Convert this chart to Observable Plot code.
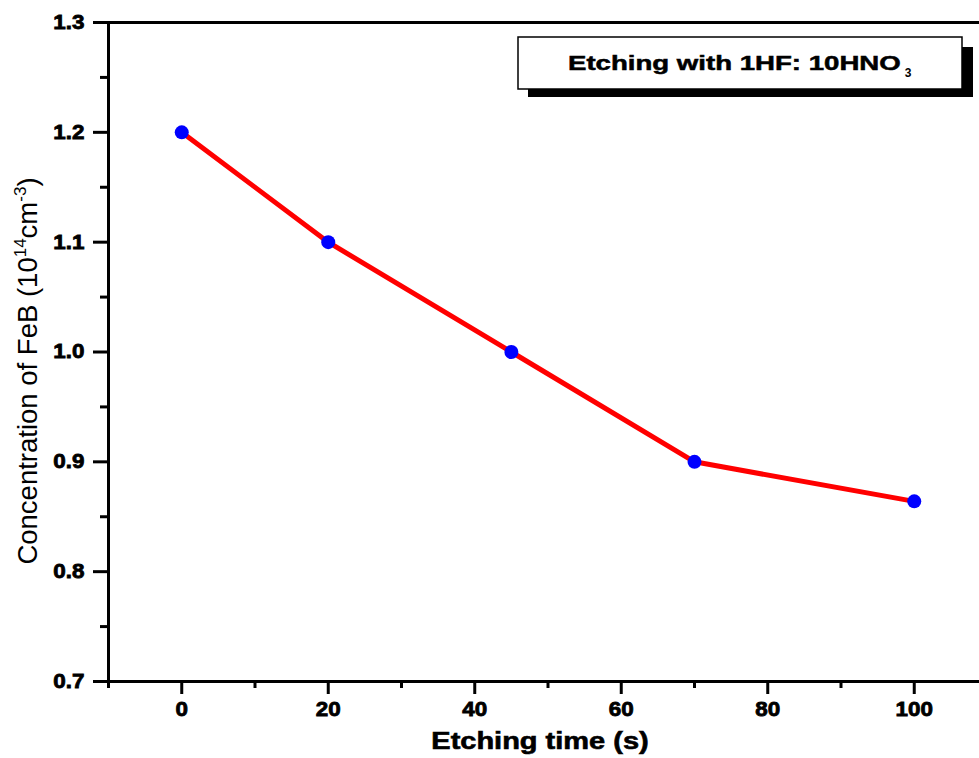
<!DOCTYPE html>
<html><head><meta charset="utf-8">
<script src="https://cdn.jsdelivr.net/npm/d3@7"></script>
<script src="https://cdn.jsdelivr.net/npm/@observablehq/plot@0.6"></script>
<style>body{margin:0;background:#fff;overflow:hidden}</style>
</head><body><div id="chart"></div>
<script>
// ---- data ----
const times = [0, 20, 45, 70, 100];
const concentration = [1.2, 1.1, 1.0, 0.9, 0.864];
const xMajorTicks = [0, 20, 40, 60, 80, 100];
const xMinorTicks = [-10, 10, 30, 50, 70, 90];
const yMajorTicks = [0.7, 0.8, 0.9, 1.0, 1.1, 1.2, 1.3];
const yMinorTicks = [0.75, 0.85, 0.95, 1.05, 1.15, 1.25];
const xTitle = "Etching time (s)";
const yTitleParts = ["Concentration of FeB (10", "14", "cm", "-3", ")"];
const legendParts = ["Etching with 1HF: 10HNO", "3"];

const data = times.map((t, i) => ({t, c: concentration[i]}));
const font = "'Liberation Sans', Arial, sans-serif";

const chart = Plot.plot({
  width: 979, height: 758,
  marginLeft: 108, marginTop: 22, marginBottom: 77, marginRight: 0,
  style: {fontFamily: font, fontSize: "20px", fontWeight: "bold", background: "#fff", color: "#000"},
  x: {domain: [-10, 110], range: [108, 987]},
  y: {domain: [0.7, 1.3]},
  marks: [
    Plot.axisX({ticks: xMajorTicks, tickSize: 13, tickPadding: 7, strokeWidth: 3, label: null, tickFormat: d => String(d), anchor: "bottom"}),
    Plot.axisX({ticks: xMinorTicks, tickSize: 7, strokeWidth: 3, label: null, tickFormat: () => "", anchor: "bottom"}),
    Plot.axisY({ticks: yMajorTicks, tickSize: 15, tickPadding: 9, strokeWidth: 3, label: null, tickFormat: d3.format(".1f"), anchor: "left"}),
    Plot.axisY({ticks: yMinorTicks, tickSize: 8, strokeWidth: 3, label: null, tickFormat: () => "", anchor: "left"}),
    Plot.ruleX([-10], {strokeWidth: 3}),
    Plot.ruleY([0.7], {strokeWidth: 3}),
    Plot.ruleY([1.3], {strokeWidth: 3}),
    Plot.line(data, {x: "t", y: "c", stroke: "#ff0000", strokeWidth: 5}),
    Plot.dot(data, {x: "t", y: "c", r: 7, fill: "#0000ff", stroke: "none"})
  ]
});
document.getElementById("chart").append(chart);

const svg = d3.select(chart);
// tick labels: heavier and stretched horizontally like the reference
svg.selectAll("text").each(function() {
  const s = this.textContent;
  if (!s) return;
  this.style.fontSize = "20px";
  this.style.fontWeight = "bold";
  this.setAttribute("stroke", "#000");
  this.setAttribute("stroke-width", 0.8);
  const len = this.getComputedTextLength();
  this.setAttribute("textLength", len * 1.12);
  this.setAttribute("lengthAdjust", "spacingAndGlyphs");
});

// x title
const xt = svg.append("text")
  .attr("x", 540).attr("y", 749)
  .attr("text-anchor", "middle")
  .attr("font-family", font).attr("font-weight", "bold").style("font-size", "23px")
  .attr("stroke", "#000").attr("stroke-width", 0.6)
  .text(xTitle);
xt.attr("textLength", xt.node().getComputedTextLength() * 1.26).attr("lengthAdjust", "spacingAndGlyphs");

// y title with superscripts
const yt = svg.append("text")
  .attr("transform", "translate(37,371) rotate(-90)")
  .attr("text-anchor", "middle")
  .attr("font-family", font).style("font-weight", "normal").style("font-size", "27.5px");
yt.append("tspan").text(yTitleParts[0]);
yt.append("tspan").attr("dy", -11).style("font-size", "17px").text(yTitleParts[1]);
yt.append("tspan").attr("dy", 11).text(yTitleParts[2]);
yt.append("tspan").attr("dy", -11).style("font-size", "17px").text(yTitleParts[3]);
yt.append("tspan").attr("dy", 11).text(yTitleParts[4]);

// legend box with shadow
const lg = svg.append("g").attr("text-anchor", "start");
lg.append("rect").attr("x", 528).attr("y", 47).attr("width", 445).attr("height", 50).attr("fill", "#000");
lg.append("rect").attr("x", 518).attr("y", 37).attr("width", 444).attr("height", 52).attr("fill", "#fff").attr("stroke", "#000").attr("stroke-width", 1.5);
const lt = lg.append("text")
  .attr("x", 568).attr("y", 70).attr("text-anchor", "start")
  .attr("font-family", font).style("font-weight", "bold").style("font-size", "20px")
  .attr("stroke", "#000").attr("stroke-width", 0.5)
  .text(legendParts[0]);
const ltLen = lt.node().getComputedTextLength() * 1.38;
lt.attr("textLength", ltLen).attr("lengthAdjust", "spacingAndGlyphs");
lg.append("text")
  .attr("x", 568 + ltLen + 4).attr("y", 77).attr("text-anchor", "start")
  .attr("font-family", font).style("font-weight", "bold").style("font-size", "12px")
  .text(legendParts[1]);
</script>
</body></html>
